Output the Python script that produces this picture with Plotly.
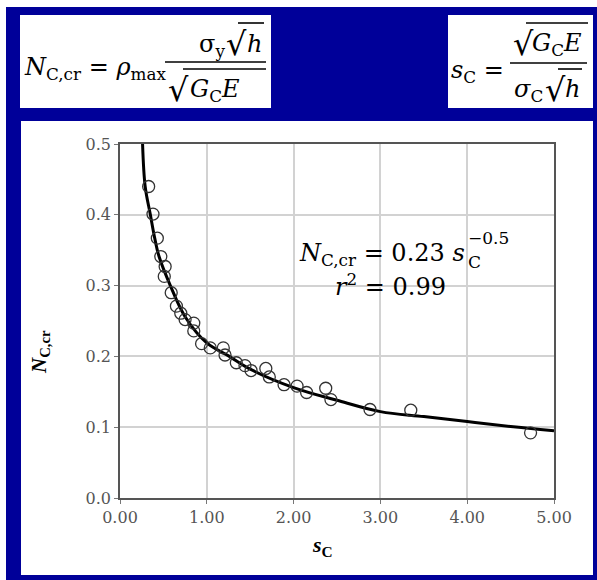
import plotly.graph_objects as go

# Measured critical load number vs. size parameter
s_c = [0.33, 0.38, 0.43, 0.47, 0.52, 0.51, 0.59, 0.65, 0.70, 0.75, 0.85, 0.85,
       0.94, 1.04, 1.19, 1.21, 1.34, 1.44, 1.51, 1.68, 1.72, 1.89, 2.04, 2.15,
       2.37, 2.43, 2.88, 3.35, 4.73]
n_ccr = [0.440, 0.401, 0.367, 0.341, 0.327, 0.313, 0.290, 0.271, 0.261, 0.252, 0.247, 0.236,
         0.218, 0.212, 0.212, 0.202, 0.191, 0.187, 0.180, 0.183, 0.171, 0.160, 0.158, 0.149,
         0.155, 0.139, 0.125, 0.124, 0.092]

# Power-law fit curve (sampled)
fit_s = [0.26, 0.29, 0.35, 0.40, 0.45, 0.58, 0.75, 1.00, 1.26, 1.50, 2.00, 2.50,
         3.00, 3.50, 4.00, 4.50, 5.00]
fit_n = [0.500, 0.440, 0.400, 0.367, 0.341, 0.300, 0.256, 0.219, 0.200, 0.182, 0.156, 0.138,
         0.122, 0.115, 0.108, 0.101, 0.095]

x_ticks = [0, 1, 2, 3, 4, 5]
x_tick_text = ["0.00", "1.00", "2.00", "3.00", "4.00", "5.00"]
y_ticks = [0.0, 0.1, 0.2, 0.3, 0.4, 0.5]
y_tick_text = ["0.0", "0.1", "0.2", "0.3", "0.4", "0.5"]

W, H = 597, 580
PL, PR, PT, PB = 120, 554, 144, 498
BLUE = "#000099"
MATH = "DejaVu Serif"
TITLE = "Liberation Serif"
TICKFONT = "DejaVu Serif"


def px(x):
    return (x - PL) / (PR - PL)


def py(y):
    return (PB - y) / (PB - PT)


fig = go.Figure()
fig.add_trace(go.Scatter(
    x=fit_s, y=fit_n, mode="lines",
    line=dict(color="black", width=3, shape="spline", smoothing=1.0),
    hoverinfo="skip"))
fig.add_trace(go.Scatter(
    x=s_c, y=n_ccr, mode="markers",
    marker=dict(symbol="circle-open", size=12, color="#333333", line=dict(width=1.3))))

shapes = []


def rect(x0, y0, x1, y1, color, layer="below"):
    shapes.append(dict(type="rect", xref="paper", yref="paper",
                       x0=px(x0), x1=px(x1), y0=py(y1), y1=py(y0),
                       fillcolor=color, line=dict(width=0), layer=layer))


def hline(x0, x1, y, width=1.6, color="black"):
    shapes.append(dict(type="line", xref="paper", yref="paper",
                       x0=px(x0), x1=px(x1), y0=py(y), y1=py(y),
                       line=dict(color=color, width=width), layer="above"))


# page frame and panels
rect(6, 7, W, H, BLUE)
rect(20, 15, 271, 108, "white")
rect(448, 15, 593, 108, "white")
rect(21, 121, 593, 575, "white")
# backing for the fit equation (hides gridlines)
rect(296, 227, 504, 270, "white", layer="between")
rect(330, 270, 452, 308, "white", layer="between")

annotations = []

METRICS = {MATH: (0.928, 0.236), TITLE: (0.891, 0.216)}


def text(x, baseline, s, size, anchor="left", family=MATH, color="black"):
    """Place a text so that its baseline lands at the given pixel row."""
    asc, desc = METRICS[family]
    k = (asc - desc) / 2
    if "<sub>" in s and "<sup>" not in s:
        k -= 0.07
    if "<sup>" in s and "<sub>" not in s:
        k += 0.07
    annotations.append(dict(xref="paper", yref="paper", x=px(x), y=py(baseline - k * size),
                            text=s, showarrow=False, xanchor=anchor, yanchor="middle",
                            font=dict(family=family, size=size, color=color)))


F = 24    # formula size
R = 32    # radical sign size

# N_C,cr definition
text(22, 75, "<i>N</i><sub>C,cr</sub> = <i>ρ</i><sub>max</sub>", F)
text(197, 52, "σ<sub>y</sub>", F)
text(224, 55, "√", R)
text(245, 52, "<i>h</i>", F)
hline(238, 264, 23)
hline(165, 266, 62)
text(166, 101, "√", R)
text(188, 97, "<i>G</i><sub>C</sub><i>E</i>", F)
hline(183, 266, 69)

# s_C definition
text(449, 78, "<i>s</i><sub>C</sub> =", F)
hline(510, 587, 63)
text(511, 55, "√", R)
text(530, 51, "<i>G</i><sub>C</sub><i>E</i>", F)
hline(526, 588, 23)
text(512, 97, "<i>σ</i><sub>C</sub>", F)
text(543, 101, "√", R)
text(563, 97, "<i>h</i>", F)
hline(558, 582, 69)

# fit equation
text(297, 261, "<i>N</i><sub>C,cr</sub> = 0.23 <i>s</i>", F)
text(466, 268, "C", 17)
text(466, 244, "−0.5", 17)
text(390, 295, "<i>r</i><sup>2</sup> = 0.99", F, anchor="center")

# axis titles
annotations.append(dict(xref="paper", yref="paper", x=px(40), y=py(352),
                        text="<b><i>N</i><sub>C,cr</sub></b>", showarrow=False,
                        textangle=-90, xanchor="center", yanchor="middle",
                        font=dict(family=TITLE, size=21, color="black")))
annotations.append(dict(xref="paper", yref="paper", x=px(322), y=py(546),
                        text="<b><i>s</i><sub>C</sub></b>", showarrow=False,
                        xanchor="center", yanchor="middle",
                        font=dict(family=TITLE, size=22, color="black")))

axis_common = dict(
    showgrid=True, gridcolor="#d2d2d2", gridwidth=1.5,
    showline=True, linecolor="#555555", linewidth=1.5, mirror=True,
    ticks="outside", ticklen=4, tickcolor="#777777",
    tickfont=dict(family=TICKFONT, size=16, color="#555555"),
    zeroline=False, fixedrange=True)

fig.update_layout(
    width=W, height=H,
    margin=dict(l=PL, r=W - PR, t=PT, b=H - PB, pad=0),
    paper_bgcolor="white", plot_bgcolor="white",
    showlegend=False,
    xaxis=dict(range=[0, 5], tickvals=x_ticks, ticktext=x_tick_text, **axis_common),
    yaxis=dict(range=[0, 0.5], tickvals=y_ticks, ticktext=y_tick_text, **axis_common),
    shapes=shapes, annotations=annotations)

fig.write_html("out.html")
